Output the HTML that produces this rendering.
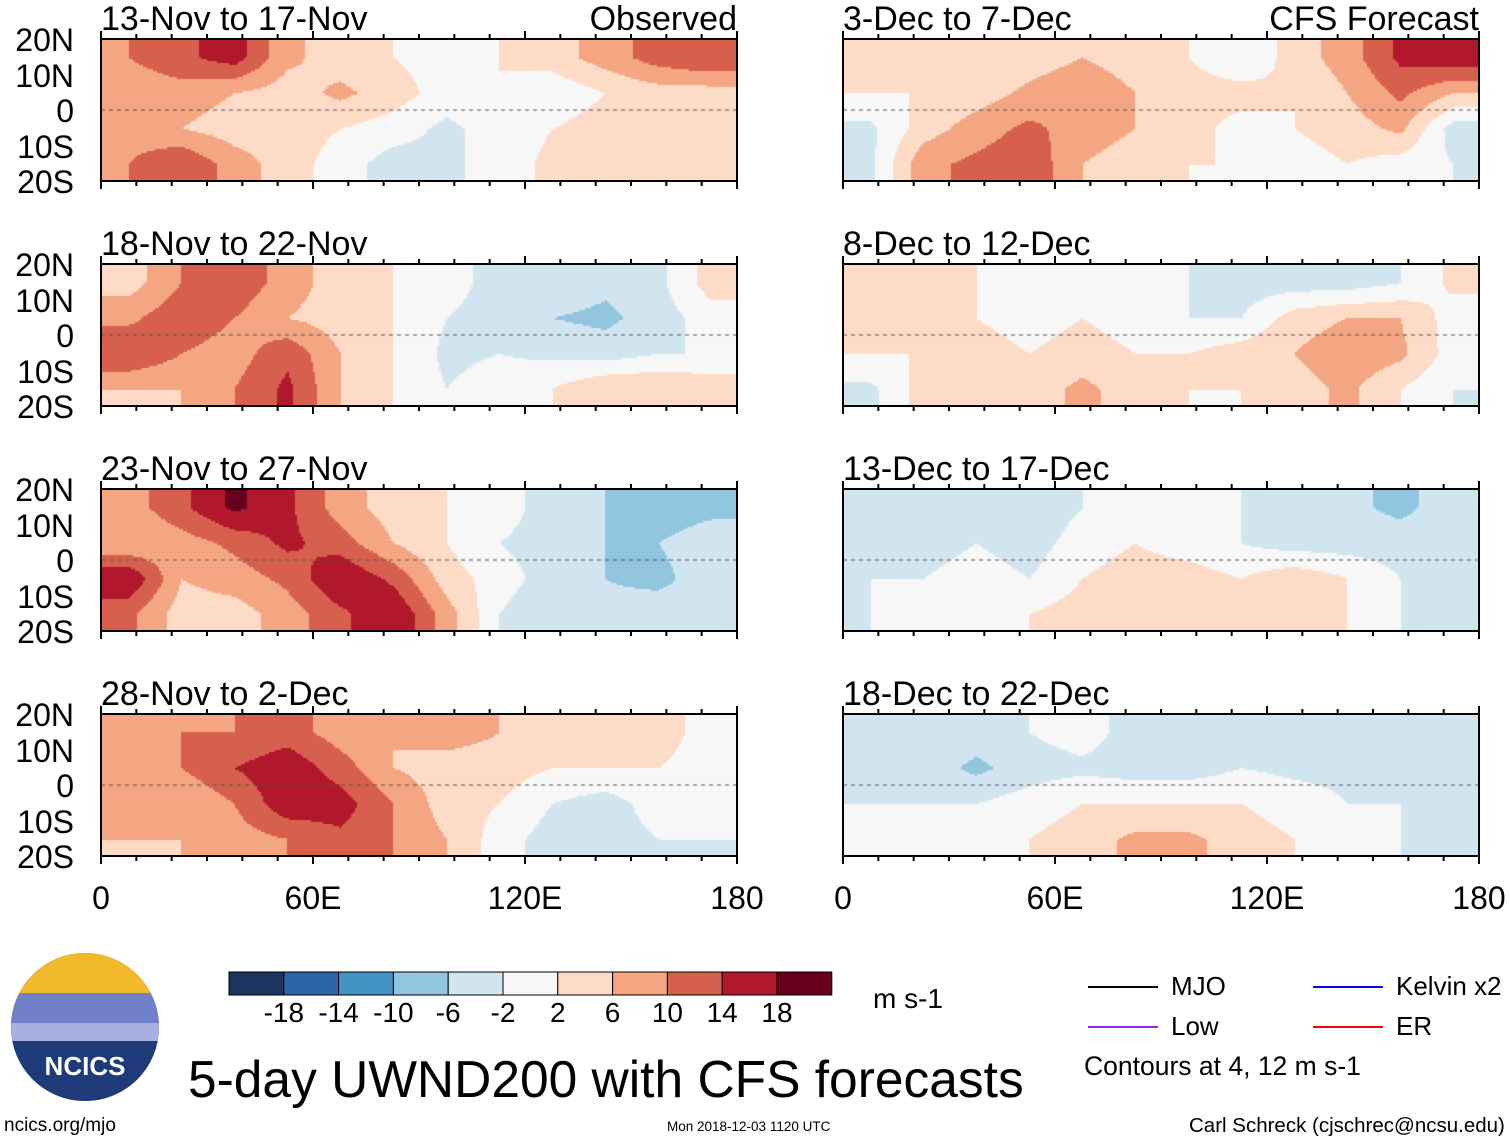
<!DOCTYPE html>
<html><head><meta charset="utf-8">
<style>
body{margin:0;background:#fff;width:1510px;height:1142px;position:relative;overflow:hidden;font-family:"Liberation Sans",sans-serif;}
.abs{position:absolute;}
.ttl{position:absolute;font-size:34px;line-height:34px;color:#000;white-space:nowrap;}
.yl{position:absolute;font-size:32px;line-height:32px;width:74px;text-align:right;}
.xl{position:absolute;font-size:32px;line-height:32px;width:140px;text-align:center;}
canvas{position:absolute;}
.frame{position:absolute;border:2px solid #000;box-sizing:border-box;}
</style></head><body>
<div id="root"></div>
<svg class="abs" style="left:0;top:0" width="1510" height="1142" id="ov"></svg>

<div class="abs" style="left:11px;top:953px;width:148px;height:148px;border-radius:50%;overflow:hidden;background:#1e3a78;">
 <div style="position:absolute;left:0;top:0;width:148px;height:52px;background:#f2b92b;"></div>
 <div style="position:absolute;left:0;top:40px;width:148px;height:45px;background:#6f7fc8;"></div>
 <div style="position:absolute;left:0;top:70px;width:148px;height:25px;background:#a7b0e0;"></div>
 <div style="position:absolute;left:0;top:88px;width:148px;height:60px;background:#1e3a78;"></div>
 <div style="position:absolute;left:0;top:98px;width:148px;text-align:center;color:#fff;font-weight:bold;font-size:26px;">NCICS</div>
</div>
<div class="abs" style="left:4px;top:1115px;font-size:19px;">ncics.org/mjo</div>
<div class="abs" style="left:188px;top:1049px;font-size:51.5px;">5-day UWND200 with CFS forecasts</div>
<div class="abs" style="left:667px;top:1119px;font-size:13.5px;">Mon 2018-12-03 1120 UTC</div>
<div class="abs" style="left:1189px;top:1114px;font-size:20.5px;">Carl Schreck (cjschrec@ncsu.edu)</div>
<div class="abs" style="left:873px;top:983px;font-size:28px;">m s-1</div>
<div class="abs" style="left:1084px;top:1051px;font-size:26.5px;">Contours at 4, 12 m s-1</div>

<script>
const lonTicks=["0","60E","120E","180"];
const latTicks=["20N","10N","0","10S","20S"];
const panelTitles=["13-Nov to 17-Nov","18-Nov to 22-Nov","23-Nov to 27-Nov","28-Nov to 2-Dec","3-Dec to 7-Dec","8-Dec to 12-Dec","13-Dec to 17-Dec","18-Dec to 22-Dec"];
const levels=[-18,-14,-10,-6,-2,2,6,10,14,18];
const colors=["#1d3461","#2c64a8","#4393c3","#92c5de","#d1e5f0","#f7f7f7","#fddbc7","#f4a582","#d6604d","#b2182b","#67001f"];
const p1=[[10,13,16,7,4,2,0,2,4,8,12,14],[7,8,6,4,7,4,0,2,-1,2,4,4],[8,6,4,4,2,0,-3,0,2,4,5,6],[10,14,8,4,0,-4,-3,0,3,5,2,6]];
const p2=[[4,10,13,8,4,2,0,-4,-3,-5,-3,4],[9,13,10,6,4,2,-2,-4,-6,-7,-4,0],[14,10,8,13,6,2,-3,-2,-3,-4,-2,-2],[6,6,10,15,6,2,-2,0,2,6,6,5]];
const p3=[[8,13,19,15,8,4,2,0,-4,-6,-8,-7],[6,8,11,15,12,6,2,-2,-4,-6,-6,-4],[18,6,8,11,18,13,4,0,-4,-6,-7,-4],[11,4,4,8,13,18,8,-2,-6,-5,-4,-4]];
const p4=[[8,10,10,12,8,6,8,6,4,2,4,0],[6,10,14,17,12,6,4,4,2,2,2,0],[8,6,10,17,16,10,4,2,-2,-4,0,0],[6,6,8,10,13,10,6,0,-4,-4,-2,-2]];
const p5=[[4,4,2,4,6,4,2,-2,4,8,15,17],[2,2,4,7,9,6,4,4,2,6,11,6],[-3,4,8,11,8,6,4,0,2,4,7,-4],[-3,9,11,13,6,4,2,2,0,2,0,-2]];
const p6=[[6,4,2,2,2,0,-2,-4,-4,-4,-2,3],[4,2,2,0,2,0,-2,-2,4,6,6,0],[2,2,4,2,4,2,2,4,6,9,7,0],[-3,4,2,4,7,4,2,2,4,7,2,-2]];
const p7=[[-4,-2,-2,-5,-2,0,0,-2,-4,-5,-7,-4],[-4,-4,-2,-4,0,2,0,-2,-4,-4,-4,-4],[-2,-2,0,-2,2,4,4,2,5,2,-2,-2],[-2,0,0,2,4,6,4,4,4,2,-2,-2]];
const p8=[[-2,-2,-4,-2,0,-4,-4,-2,-2,-3,-3,-2],[-3,-4,-7,-4,-3,-4,-4,-2,-3,-3,-2,-3],[-2,-2,-2,0,2,2,2,2,0,-2,-2,-3],[0,-2,0,2,4,7,7,4,2,0,-2,-2]];
const panelData=[p1,p2,p3,p4,p5,p6,p7,p8];
const legendNames=["MJO","Low","Kelvin x2","ER"];
const legendColors=["#000","#a020f0","#0000ff","#ff0000"];

const root=document.getElementById('root');
const ov=document.getElementById('ov');
const NS="http://www.w3.org/2000/svg";
const W=636,H=142;
const colX=[101,843], rowY=[39,264,489,714];
function xScale(lon){return lon/180*W;}
function yScale(lat){return (20-lat)/40*H;}
function colorFor(v){let i=0;while(i<levels.length&&v>levels[i])i++;return colors[i];}
function sample(d,lon,lat){
  let fx=lon/15-0.5, fy=(20-lat)/10-0.5;
  fx=Math.max(0,Math.min(11,fx)); fy=Math.max(0,Math.min(3,fy));
  const x0=Math.floor(fx),y0=Math.floor(fy),x1=Math.min(11,x0+1),y1=Math.min(3,y0+1);
  const tx=fx-x0,ty=fy-y0;
  const a=d[y0][x0]*(1-tx)+d[y0][x1]*tx, b=d[y1][x0]*(1-tx)+d[y1][x1]*tx;
  return a*(1-ty)+b*ty;
}
panelData.forEach((d,k)=>{
  const c=k<4?0:1, r=k%4;
  const L=colX[c],T=rowY[r];
  const cv=document.createElement('canvas');
  cv.width=W;cv.height=H;cv.style.left=L+'px';cv.style.top=T+'px';
  
  
  root.appendChild(cv);
  const ctx=cv.getContext('2d');
  const s=2;
  for(let py=0;py<H;py+=s)for(let px=0;px<W;px+=s){
    const lon=px/W*180, lat=20-py/H*40;
    ctx.fillStyle=colorFor(sample(d,lon,lat));
    ctx.fillRect(px,py,s,s);
  }
  ctx.strokeStyle='#555';ctx.setLineDash([4,4]);ctx.lineWidth=1;
  ctx.beginPath();ctx.moveTo(0,yScale(0));ctx.lineTo(W,yScale(0));ctx.stroke();
  const fr=document.createElement('div');fr.className='frame';
  fr.style.cssText+=`left:${L-1}px;top:${T-1}px;width:${W+2}px;height:${H+2}px;`;
  
  
  root.appendChild(fr);
  const t=document.createElement('div');t.className='ttl';
  t.style.left=L+'px';t.style.top=(T-37)+'px';t.textContent=panelTitles[k];
  
  
  root.appendChild(t);
  for(let lon=0;lon<=180;lon+=10){
    const x=L+xScale(lon);
    const len=lon%60===0?8:5;
    [[T,T-len],[T+H,T+H+len]].forEach(p=>{
      const ln=document.createElementNS(NS,'line');
      ln.setAttribute('x1',x);ln.setAttribute('x2',x);ln.setAttribute('y1',p[0]);ln.setAttribute('y2',p[1]);
      ln.setAttribute('stroke','#000');ln.setAttribute('stroke-width','2');
      
      
      ov.appendChild(ln);
    });
  }
  if(c===0){
    latTicks.forEach((lab,i)=>{
      const e=document.createElement('div');e.className='yl';
      e.style.left='0px';e.style.top=(T+yScale(20-i*10)-15)+'px';e.textContent=lab;
      
      
      root.appendChild(e);
    });
  }
  if(r===3){
    lonTicks.forEach((lab,i)=>{
      const e=document.createElement('div');e.className='xl';
      e.style.left=(L+xScale(i*60)-70)+'px';e.style.top=(T+H+26)+'px';e.textContent=lab;
      
      
      root.appendChild(e);
    });
  }
});
[["Observed",737],["CFS Forecast",1479]].forEach(a=>{
  const e=document.createElement('div');e.className='ttl';
  e.style.right=(1510-a[1])+'px';e.style.top='2px';e.textContent=a[0];
  
  
  root.appendChild(e);
});
const cbL=229,cbT=972,cbW=54.8,cbH=23;
colors.forEach((col,i)=>{
  const r=document.createElementNS(NS,'rect');
  r.setAttribute('x',cbL+i*cbW);r.setAttribute('y',cbT);r.setAttribute('width',cbW);r.setAttribute('height',cbH);
  r.setAttribute('fill',col);r.setAttribute('stroke','#000');r.setAttribute('stroke-width','1');
  
  
  ov.appendChild(r);
});
levels.forEach((lv,i)=>{
  const e=document.createElement('div');e.className='abs';
  e.style.cssText+=`left:${cbL+(i+1)*cbW-40}px;top:997px;width:80px;text-align:center;font-size:28px;`;
  e.textContent=lv;
  
  
  root.appendChild(e);
});
const lgPos=[[1088,987],[1088,1027],[1313,987],[1313,1027]];
legendNames.forEach((n,i)=>{
  const [x,y]=lgPos[i];
  const ln=document.createElementNS(NS,'line');
  ln.setAttribute('x1',x);ln.setAttribute('x2',x+70);ln.setAttribute('y1',y);ln.setAttribute('y2',y);
  ln.setAttribute('stroke',legendColors[i]);ln.setAttribute('stroke-width','2');
  
  
  ov.appendChild(ln);
  const e=document.createElement('div');e.className='abs';
  e.style.cssText+=`left:${x+83}px;top:${y-16}px;font-size:26px;`;
  e.textContent=n;
  
  
  root.appendChild(e);
});
</script>
</body></html>
